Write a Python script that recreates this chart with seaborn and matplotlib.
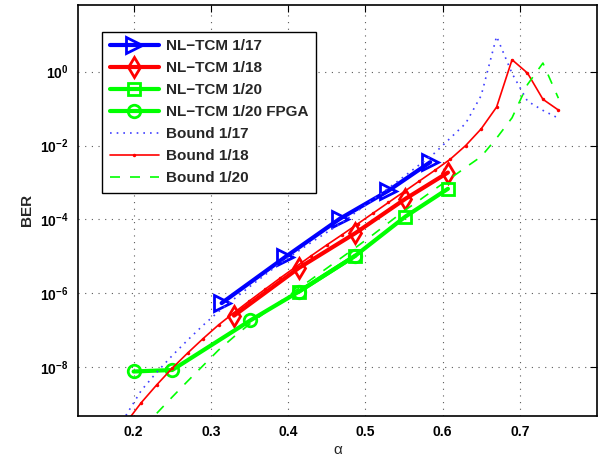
import numpy as np
import pandas as pd
import matplotlib
matplotlib.use("Agg")
import matplotlib.pyplot as plt
import seaborn as sns
from matplotlib.ticker import FixedLocator, FixedFormatter, NullLocator

# ---------------- data ----------------
alpha_1_17 = [0.314, 0.396, 0.467, 0.530, 0.584]
ber_1_17_log = [-6.26, -5.02, -3.98, -3.22, -2.45]

alpha_1_18 = [0.330, 0.414, 0.487, 0.552, 0.607]
ber_1_18_log = [-6.60, -5.31, -4.37, -3.44, -2.73]

alpha_1_20 = [0.414, 0.487, 0.552, 0.607]
ber_1_20_log = [-5.95, -4.98, -3.92, -3.17]

alpha_fpga = [0.200, 0.250, 0.351, 0.414, 0.487]
ber_fpga_log = [-8.11, -8.07, -6.73, -5.95, -4.98]

alpha_bound = [0.19, 0.21, 0.23, 0.25, 0.27, 0.29, 0.31, 0.33, 0.35, 0.37,
               0.39, 0.41, 0.43, 0.45, 0.47, 0.49, 0.51, 0.53, 0.55, 0.57,
               0.59, 0.61, 0.63, 0.65, 0.67, 0.69, 0.71, 0.73, 0.75]
bound_1_17_log = [-9.30, -8.62, -8.13, -7.68, -7.26, -6.86, -6.49, -6.15, -5.82, -5.50,
                  -5.18, -4.90, -4.62, -4.35, -4.08, -3.77, -3.46, -3.15, -2.84, -2.52,
                  -2.20, -1.80, -1.40, -0.65, 0.95, -0.05, -0.80, -1.05, -1.26]
bound_1_18_log = [-9.50, -8.95, -8.47, -8.02, -7.61, -7.22, -6.85, -6.52, -6.20, -5.89,
                  -5.58, -5.28, -4.98, -4.69, -4.41, -4.12, -3.83, -3.54, -3.25, -2.96,
                  -2.67, -2.37, -2.00, -1.55, -0.96, 0.32, -0.04, -0.75, -1.04]

alpha_bound20 = [0.23, 0.25, 0.27, 0.29, 0.31, 0.33, 0.35, 0.37, 0.39, 0.41,
                 0.43, 0.45, 0.47, 0.49, 0.51, 0.53, 0.55, 0.57, 0.59, 0.61,
                 0.63, 0.65, 0.67, 0.69, 0.71, 0.73, 0.75]
bound_1_20_log = [-9.24, -8.80, -8.37, -7.95, -7.53, -7.17, -6.83, -6.52, -6.22, -5.92,
                  -5.62, -5.32, -5.02, -4.72, -4.41, -4.09, -3.77, -3.48, -3.18, -2.89,
                  -2.59, -2.30, -1.80, -1.25, -0.35, 0.23, -0.72]

x_ticks = [0.2, 0.3, 0.4, 0.5, 0.6, 0.7]
x_tick_labels = ["0.2", "0.3", "0.4", "0.5", "0.6", "0.7"]
y_tick_exps = [0, -2, -4, -6, -8]

# ---------------- style ----------------
sns.set_style("white")
plt.rcParams["font.family"] = ["Liberation Sans", "DejaVu Sans"]
plt.rcParams["mathtext.fontset"] = "custom"
plt.rcParams["mathtext.rm"] = "Liberation Sans"
plt.rcParams["mathtext.bf"] = "Liberation Sans:bold"

fig = plt.figure(figsize=(6.05, 4.57), dpi=100)
ax = fig.add_axes([78/605, 1-415.5/457, (596.7-77.7)/605, (415.5-5)/457])

def df(x, ylog):
    return pd.DataFrame({"alpha": x, "BER": np.power(10.0, ylog)})

BLUE = (0, 0, 1)
RED = (1, 0, 0)
GREEN = (0, 1, 0)

sns.lineplot(data=df(alpha_1_17, ber_1_17_log), x="alpha", y="BER", ax=ax,
             color=BLUE, lw=3, marker=">", markersize=11, markerfacecolor="none",
             markeredgecolor=BLUE, markeredgewidth=2, label="NL\u2212TCM 1/17")
sns.lineplot(data=df(alpha_1_18, ber_1_18_log), x="alpha", y="BER", ax=ax,
             color=RED, lw=3, marker="d", markersize=10, markerfacecolor="none",
             markeredgecolor=RED, markeredgewidth=2, label="NL\u2212TCM 1/18")
sns.lineplot(data=df(alpha_1_20, ber_1_20_log), x="alpha", y="BER", ax=ax,
             color=GREEN, lw=3, marker="s", markersize=8, markerfacecolor="none",
             markeredgecolor=GREEN, markeredgewidth=2, label="NL\u2212TCM 1/20")
sns.lineplot(data=df(alpha_fpga, ber_fpga_log), x="alpha", y="BER", ax=ax,
             color=GREEN, lw=3, marker="o", markersize=9, markerfacecolor="none",
             markeredgecolor=GREEN, markeredgewidth=2, label="NL\u2212TCM 1/20 FPGA")
sns.lineplot(data=df(alpha_bound, bound_1_17_log), x="alpha", y="BER", ax=ax,
             color=(0.25, 0.25, 1), lw=1.2, linestyle=(0, (1, 3)), label="Bound 1/17")
sns.lineplot(data=df(alpha_bound, bound_1_18_log), x="alpha", y="BER", ax=ax,
             color=RED, lw=1.2, marker="o", markersize=2.5, markeredgewidth=0,
             label="Bound 1/18")
sns.lineplot(data=df(alpha_bound20, bound_1_20_log), x="alpha", y="BER", ax=ax,
             color=GREEN, lw=1.2, linestyle=(0, (6, 6)), label="Bound 1/20")

ax.set_yscale("log")
ax.set_xlim(0.128, 0.8)
ax.set_ylim(10**-9.3, 10**1.8)

ax.xaxis.set_major_locator(FixedLocator(x_ticks))
ax.xaxis.set_major_formatter(FixedFormatter(x_tick_labels))
ax.yaxis.set_major_locator(FixedLocator([10.0**e for e in y_tick_exps]))
ax.yaxis.set_major_formatter(FixedFormatter(
    [r"$\mathbf{10^{%d}}$" % e for e in y_tick_exps]))
ax.yaxis.set_minor_locator(NullLocator())
ax.xaxis.set_minor_locator(NullLocator())

ax.tick_params(axis="both", which="major", direction="in", length=5, width=0.8,
               top=True, right=True, labelsize=10, pad=7, colors="black")
for lab in ax.get_xticklabels():
    lab.set_fontweight("bold")

ax.grid(True, which="major", color="0.35", linestyle=(0, (1, 5)), linewidth=0.8)
for s in ax.spines.values():
    s.set_color("black")
    s.set_linewidth(1.2)

ax.set_xlabel("\u03b1", fontsize=11, labelpad=3)
ax.set_ylabel("BER", fontsize=11, fontweight="bold", labelpad=4)

leg = ax.legend(loc="upper left", bbox_to_anchor=(0.047, 0.935), borderaxespad=0,
                fancybox=False, frameon=True, edgecolor="black", framealpha=1,
                handlelength=3.2, handletextpad=0.45, labelspacing=0.52, borderpad=0.5,
                prop={"weight": "bold", "size": 11})
leg.get_frame().set_linewidth(1.0)

fig.savefig("out.png", dpi=100)
